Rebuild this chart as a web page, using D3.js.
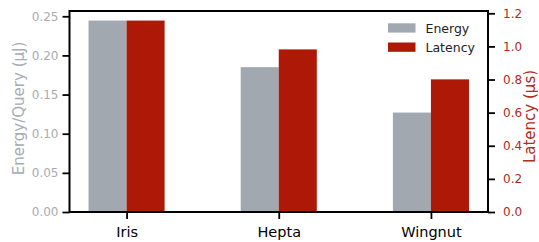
<!DOCTYPE html>
<html>
<head>
<meta charset="utf-8">
<script src="https://cdn.jsdelivr.net/npm/d3@7"></script>
<style>
  body { margin: 0; background: #fff; }
  text { font-family: "DejaVu Sans", sans-serif; }
</style>
</head>
<body>
<div id="wrapper"></div>
<script>
const categories = ["Iris", "Hepta", "Wingnut"]
const energy = [0.2445, 0.185, 0.127]
const latency = [1.156, 0.982, 0.801]
const energyTicks = [0, 0.05, 0.10, 0.15, 0.20, 0.25]
const latencyTicks = [0, 0.2, 0.4, 0.6, 0.8, 1.0, 1.2]

const grey = "#a2a8b0"
const red = "#ae1806"
const greyText = "#a7acb3"
const redText = "#b22a1a"

const dimensions = {
  width: 539,
  height: 242,
  margins: { top: 11, right: 51, bottom: 30, left: 69.5 }
}
dimensions.boundedWidth = dimensions.width - dimensions.margins.left - dimensions.margins.right
dimensions.boundedHeight = dimensions.height - dimensions.margins.top - dimensions.margins.bottom

const svg = d3.select("#wrapper").append("svg")
  .attr("width", dimensions.width)
  .attr("height", dimensions.height)

const bounds = svg.append("g")
  .attr("transform", `translate(${dimensions.margins.left},${dimensions.margins.top})`)

const barW = 0.25
const xScale = d3.scaleLinear()
  .domain([-0.375, 2.375])
  .range([0, dimensions.boundedWidth])

const yLeft = d3.scaleLinear()
  .domain([0, d3.max(energy) * 1.05])
  .range([dimensions.boundedHeight, 0])

const yRight = d3.scaleLinear()
  .domain([0, d3.max(latency) * 1.05])
  .range([dimensions.boundedHeight, 0])

// bars
bounds.selectAll(".energy").data(energy).join("rect")
  .attr("x", (d, i) => xScale(i - barW))
  .attr("width", (d, i) => xScale(i) - xScale(i - barW))
  .attr("y", d => yLeft(d))
  .attr("height", d => yLeft(0) - yLeft(d))
  .attr("fill", grey)

bounds.selectAll(".latency").data(latency).join("rect")
  .attr("x", (d, i) => xScale(i))
  .attr("width", (d, i) => xScale(i + barW) - xScale(i))
  .attr("y", d => yRight(d))
  .attr("height", d => yRight(0) - yRight(d))
  .attr("fill", red)

// axes
const leftAxis = bounds.append("g")
  .call(d3.axisLeft(yLeft).tickValues(energyTicks).tickFormat(d3.format(".2f")).tickSize(7).tickPadding(4))
leftAxis.selectAll("text").attr("fill", greyText).style("font-size", "12px")

const rightAxis = bounds.append("g")
  .attr("transform", `translate(${dimensions.boundedWidth},0)`)
  .call(d3.axisRight(yRight).tickValues(latencyTicks).tickFormat(d3.format(".1f")).tickSize(7).tickPadding(8))
rightAxis.selectAll("text").attr("fill", redText).style("font-size", "12px")

const xAxis = bounds.append("g")
  .attr("transform", `translate(0,${dimensions.boundedHeight})`)
  .call(d3.axisBottom(xScale).tickValues([0, 1, 2]).tickFormat(i => categories[i]).tickSize(7).tickPadding(8))
xAxis.selectAll("text").attr("fill", "#000").style("font-size", "14.5px")

;[leftAxis, rightAxis, xAxis].forEach(a => {
  a.select(".domain").remove()
  a.selectAll("line").attr("stroke", "#000").attr("stroke-width", 1.8)
})

// frame
bounds.append("rect")
  .attr("width", dimensions.boundedWidth)
  .attr("height", dimensions.boundedHeight)
  .attr("fill", "none")
  .attr("stroke", "#000")
  .attr("stroke-width", 2)

// axis labels
bounds.append("text")
  .attr("transform", `translate(-45.5,${dimensions.boundedHeight / 2 - 3}) rotate(-90)`)
  .attr("text-anchor", "middle")
  .attr("fill", greyText)
  .style("font-size", "15px")
  .text("Energy/Query (μJ)")

bounds.append("text")
  .attr("transform", `translate(${dimensions.boundedWidth + 47},${dimensions.boundedHeight / 2 + 5}) rotate(-90)`)
  .attr("text-anchor", "middle")
  .attr("fill", redText)
  .style("font-size", "15px")
  .text("Latency (μs)")

// legend
const legend = bounds.append("g")
  .attr("transform", `translate(${xScale(2.375) - 100},12.3)`)
const legendItems = [["Energy", grey], ["Latency", red]]
legendItems.forEach(([name, color], i) => {
  legend.append("rect")
    .attr("x", 0).attr("y", i * 19.2)
    .attr("width", 27.5).attr("height", 9.3)
    .attr("fill", color)
  legend.append("text")
    .attr("x", 37.5).attr("y", i * 19.2 + 9.3)
    .attr("fill", "#222")
    .style("font-size", "12.5px")
    .text(name)
})
</script>
</body>
</html>
